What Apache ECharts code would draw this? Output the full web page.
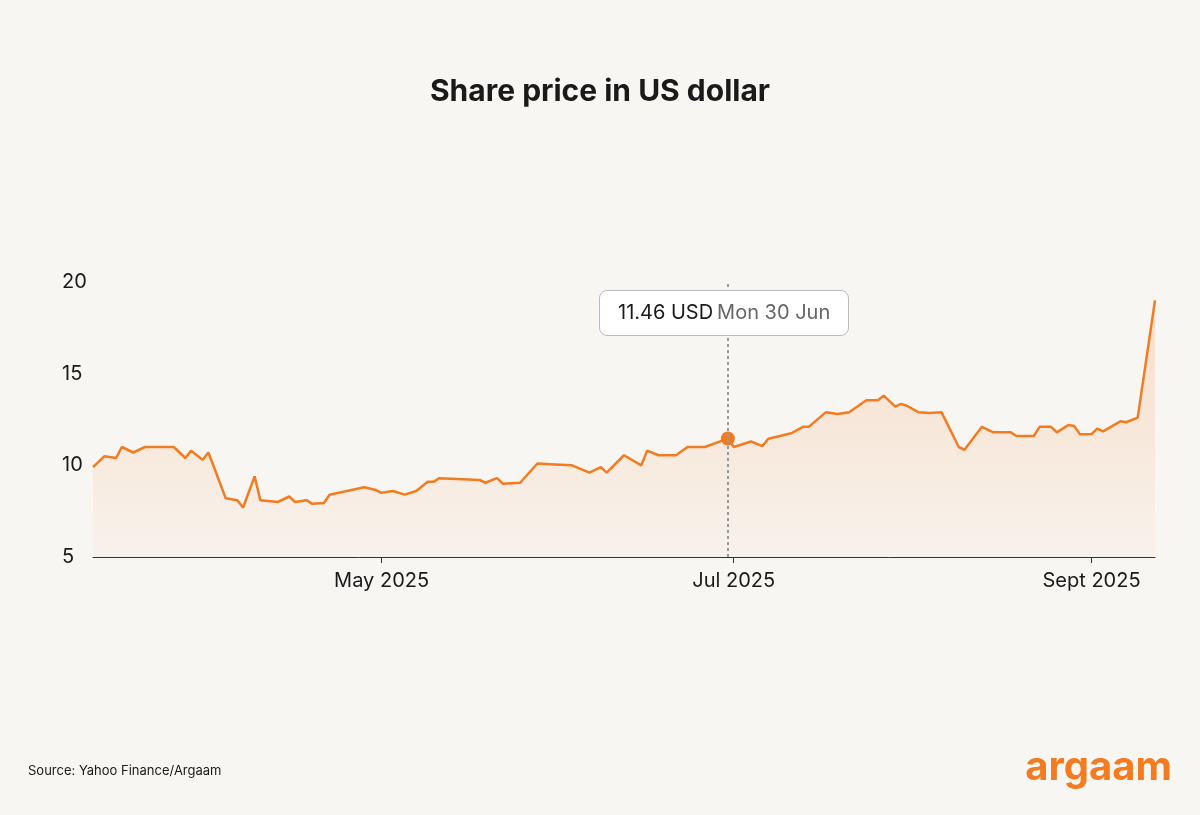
<!DOCTYPE html>
<html><head><meta charset="utf-8">
<script src="https://cdn.jsdelivr.net/npm/echarts@6/dist/echarts.min.js"></script>
<style>html,body{margin:0;padding:0;background:#f8f6f3}#c{width:1200px;height:815px}</style>
</head><body><div id="c"></div>
<script>
const dates = ["2025-03-12","2025-03-14","2025-03-16","2025-03-17","2025-03-19","2025-03-21","2025-03-26","2025-03-28","2025-03-29","2025-03-31",
"2025-04-01","2025-04-04","2025-04-06","2025-04-07","2025-04-09","2025-04-10","2025-04-13","2025-04-15","2025-04-16","2025-04-18",
"2025-04-19","2025-04-21","2025-04-22","2025-04-28","2025-04-30","2025-05-01","2025-05-03","2025-05-05","2025-05-07","2025-05-09",
"2025-05-10","2025-05-11","2025-05-18","2025-05-19","2025-05-21","2025-05-22","2025-05-25","2025-05-28","2025-05-31","2025-06-03",
"2025-06-06","2025-06-08","2025-06-09","2025-06-12","2025-06-15","2025-06-16","2025-06-18","2025-06-21","2025-06-23","2025-06-26",
"2025-06-30","2025-07-01","2025-07-04","2025-07-06","2025-07-07","2025-07-11","2025-07-13","2025-07-14","2025-07-17","2025-07-19",
"2025-07-21","2025-07-24","2025-07-26","2025-07-27","2025-07-29","2025-07-30","2025-07-31","2025-08-02","2025-08-04","2025-08-06",
"2025-08-09","2025-08-10","2025-08-13","2025-08-15","2025-08-18","2025-08-19","2025-08-22","2025-08-23","2025-08-25","2025-08-26",
"2025-08-28","2025-08-29","2025-08-30","2025-09-01","2025-09-02","2025-09-03","2025-09-06","2025-09-07","2025-09-09","2025-09-12"];
const prices = [9.9,10.5,10.4,11.0,10.7,11.0,11.0,10.4,10.8,10.3,
10.7,8.2,8.1,7.7,9.4,8.1,8.0,8.3,8.0,8.1,
7.9,7.95,8.4,8.8,8.65,8.5,8.6,8.4,8.6,9.1,
9.1,9.3,9.2,9.05,9.3,9.0,9.05,10.1,10.05,10.0,
9.6,9.9,9.6,10.55,10.0,10.8,10.55,10.55,11.0,11.0,
11.46,11.0,11.3,11.05,11.45,11.75,12.1,12.1,12.9,12.8,
12.9,13.55,13.55,13.8,13.2,13.35,13.25,12.9,12.85,12.9,
11.0,10.85,12.1,11.8,11.8,11.6,11.6,12.1,12.1,11.8,
12.2,12.15,11.7,11.7,12.0,11.85,12.4,12.35,12.6,19.0];
const xTicks = ["2025-05-01","2025-07-01","2025-09-01"];
const xTickLabels = {"2025-05-01":"May 2025","2025-07-01":"Jul 2025","2025-09-01":"Sept 2025"};
const yTicks = [5,10,15,20];
const highlightDate = "2025-06-30";

const ts = d => new Date(d + "T00:00:00Z").getTime();
const data = dates.map((d,i)=>[ts(d), prices[i]]);
const hiIdx = dates.indexOf(highlightDate);
const labelMap = {}; xTicks.forEach(d=>labelMap[ts(d)] = xTickLabels[d]);
const orange = '#f47b20';
const chart = echarts.init(document.getElementById('c'));
chart.setOption({
  animation:false,
  backgroundColor:'#f8f6f3',
  textStyle:{fontFamily:'Inter, "Noto Sans", sans-serif'},
  title:{text:'Share price in US dollar',left:'center',top:72,textStyle:{fontSize:30,fontWeight:'bold',color:'#1a1a1a',fontFamily:'Inter, sans-serif'}},
  grid:{left:93,right:45,top:282,bottom:258},
  xAxis:{type:'value',min:ts(dates[0]),max:ts(dates[dates.length-1]),
    axisLine:{show:true,lineStyle:{color:'#333',width:1}},
    axisTick:{show:true,customValues:xTicks.map(ts),length:6,lineStyle:{color:'#333'}},
    axisLabel:{customValues:xTicks.map(ts),formatter:v=>labelMap[v]||'',fontSize:20,color:'#1a1a1a',margin:14},
    splitLine:{show:false}},
  yAxis:{type:'value',min:5,max:20,interval:5,
    axisLine:{show:false},axisTick:{show:false},splitLine:{show:false},
    axisLabel:{fontSize:20,color:'#1a1a1a',align:'left',margin:31}},
  tooltip:{trigger:'axis',alwaysShowContent:true,showContent:true,
    axisPointer:{type:'line',label:{show:false},lineStyle:{color:'#999',type:[3,3],width:2}},
    backgroundColor:'#ffffff',borderColor:'#bbbbbb',borderWidth:1,borderRadius:8,padding:[11,18],
    extraCssText:'box-shadow:none;',
    position:(p)=>[p[0]-129, 290],
    formatter:(ps)=>{const p=ps[0];const d=new Date(p.value[0]);
      const wd=['Sun','Mon','Tue','Wed','Thu','Fri','Sat'][d.getUTCDay()];
      const mo=['Jan','Feb','Mar','Apr','May','Jun','Jul','Aug','Sep','Oct','Nov','Dec'][d.getUTCMonth()];
      return '<span style="font-size:20px;color:#1a1a1a;font-family:Inter">'+p.value[1].toFixed(2)+' USD</span> <span style="font-size:20px;color:#666;font-family:Inter">'+wd+' '+d.getUTCDate()+' '+mo+'</span>';}},
  series:[{type:'line',data:data,symbol:'none',showSymbol:false,
    lineStyle:{color:orange,width:2.5},
    itemStyle:{color:orange},
    emphasis:{disabled:true},
    areaStyle:{color:new echarts.graphic.LinearGradient(0,0,0,1,[{offset:0,color:'rgba(244,123,32,0.28)'},{offset:1,color:'rgba(244,123,32,0.05)'}])},
    markPoint:{symbol:'circle',symbolSize:14,itemStyle:{color:orange},label:{show:false},
      data:[{coord:data[hiIdx]}]}
  }],
  graphic:[
    {type:'text',left:28,top:765,style:{text:'Source: Yahoo Finance/Argaam',fontSize:13,fill:'#1a1a1a',fontFamily:'Inter, sans-serif'}},
    {type:'text',right:28,top:748,style:{text:'argaam',fontSize:40,fill:orange,fontWeight:'bold',fontFamily:'Inter, sans-serif'}}
  ]
});
try { chart.dispatchAction({type:'showTip',seriesIndex:0,dataIndex:hiIdx}); } catch(e) {}
</script></body></html>
